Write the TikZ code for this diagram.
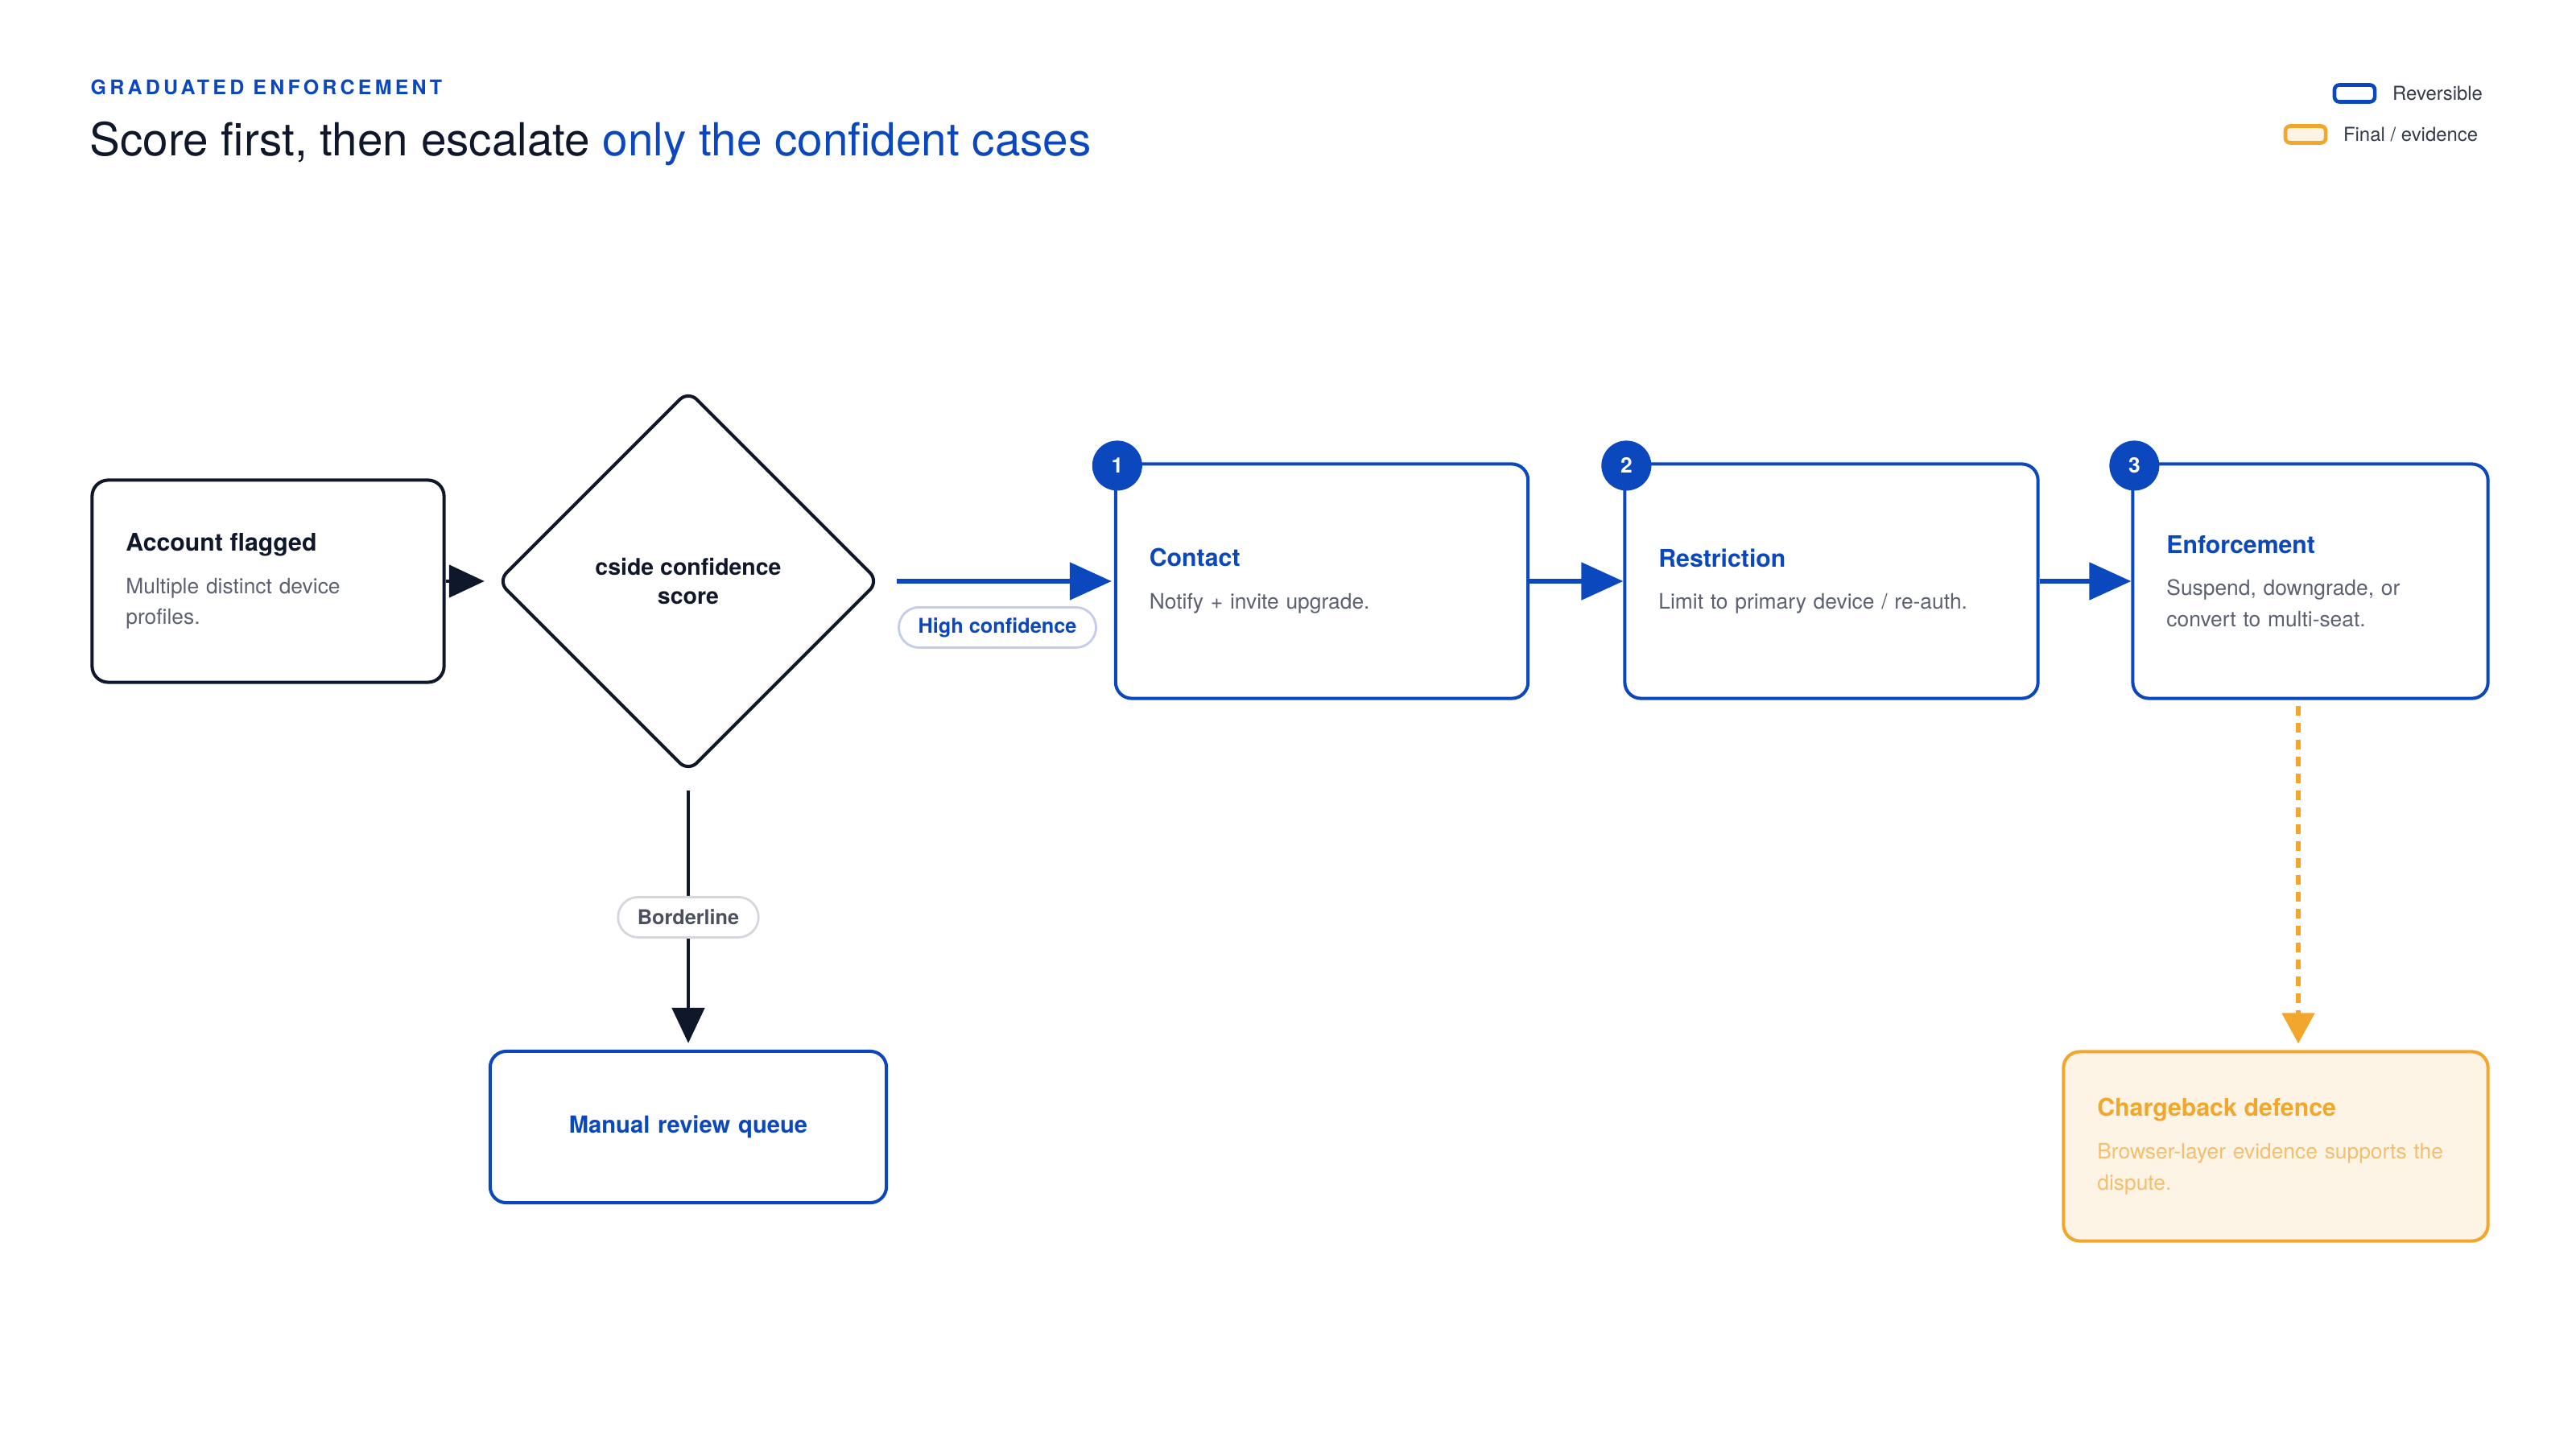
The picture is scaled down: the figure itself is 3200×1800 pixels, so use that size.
\documentclass[tikz,border=0pt]{standalone}
\usepackage{fontspec}
\setmainfont{TeX Gyre Heros}
\usetikzlibrary{arrows.meta,shapes.geometric}

\definecolor{navy}{HTML}{0F172A}
\definecolor{cobalt}{HTML}{0B47BD}
\definecolor{slate}{HTML}{5B6170}
\definecolor{amber}{HTML}{F2A62B}
\definecolor{amberpale}{HTML}{F3BE6E}
\definecolor{cream}{HTML}{FDF4E6}
\definecolor{rimgray}{HTML}{D4D7DD}
\definecolor{rimblue}{HTML}{C3CDEB}
\definecolor{pillink}{HTML}{4A505E}

\newcommand{\cardhead}[2]{{\fontsize{8.6}{11}\selectfont\bfseries\color{#1}#2}\\[4pt]}

\begin{document}
\begin{tikzpicture}[x=0.01cm, y=-0.01cm,
    card/.style={draw=#1, line width=1.15pt, rounded corners=0.2cm, fill=white,
      align=left, inner xsep=0.42cm, inner ysep=0pt,
      font=\fontsize{7.5}{11}\selectfont, text=slate},
    badge/.style={circle, fill=cobalt, text=white, minimum size=0.62cm, inner sep=0pt,
      font=\fontsize{7.5}{9}\selectfont\bfseries},
    pill/.style={draw=#1, line width=0.8pt, fill=white, rounded corners=0.25cm,
      minimum height=0.5cm, inner xsep=0.24cm, inner ysep=0pt,
      font=\fontsize{7.2}{9}\selectfont\bfseries},
    flow/.style={draw=#1, line width=1.5pt, -{Triangle[length=0.52cm,width=0.46cm]}},
    flowdark/.style={draw=navy, line width=1.4pt, -{Triangle[length=0.44cm,width=0.40cm]}},
    evidence/.style={draw=amber, line width=1.5pt, dash pattern=on 0.12cm off 0.09cm,
      -{Triangle[length=0.38cm,width=0.40cm]}},
    keybox/.style={draw=#1, line width=1.3pt, rounded corners=0.06cm,
      minimum width=0.5cm, minimum height=0.21cm, inner sep=0pt},
    keytext/.style={anchor=west, inner sep=0pt, text=navy!85,
      font=\fontsize{6.8}{8}\selectfont}]
\useasboundingbox (0,0) rectangle (3200,1800);

\node[anchor=west, inner sep=0pt, text=cobalt, font=\fontsize{7.1}{9}\selectfont\bfseries\addfontfeatures{LetterSpace=17}] (kicker) at (112,108) {GRADUATED ENFORCEMENT};
\node[anchor=west, inner sep=0pt, font=\fontsize{16.1}{19}\selectfont] (headline) at (111,179) {{\color{navy}Score first, then escalate} {\color{cobalt}only the confident cases}};

\node[keybox=cobalt] (keyrev) at (2925,116) {};
\node[keytext] (reversible) at ([xshift=0.19cm]keyrev.east) {Reversible};
\node[keybox=amber, fill=cream] (keyfinal) at (2864,167) {};
\node[keytext] (final) at ([xshift=0.19cm]keyfinal.east) {Final / evidence};

\node[card=navy, text width=3.53cm, minimum height=2.51cm] (flag) at (333,722)
  {\cardhead{navy}{Account flagged}Multiple distinct device\\profiles.};
\node[diamond, aspect=1, draw=navy, line width=1.15pt, rounded corners=0.15cm, fill=white,
  minimum width=4.74cm, minimum height=4.74cm, inner sep=0pt, align=center, text=navy,
  font=\fontsize{8.1}{10.5}\selectfont\bfseries] (score) at (855,722) {cside confidence\\score};

\node[card=cobalt, text width=4.28cm, minimum height=2.91cm] (contact) at (1642,722)
  {\cardhead{cobalt}{Contact}Notify + invite upgrade.};
\node[card=cobalt, text width=4.29cm, minimum height=2.91cm] (restrict) at (2275,722)
  {\cardhead{cobalt}{Restriction}Limit to primary device / re-auth.};
\node[card=cobalt, text width=3.57cm, minimum height=2.91cm] (enforce) at (2870,722)
  {\cardhead{cobalt}{Enforcement}Suspend, downgrade, or\\convert to multi-seat.};

\node[badge] (one) at ([shift={(0.04cm,-0.04cm)}]contact.north west) {1};
\node[badge] (two) at ([shift={(0.04cm,-0.04cm)}]restrict.north west) {2};
\node[badge] (three) at ([shift={(0.04cm,-0.04cm)}]enforce.north west) {3};

\node[card=cobalt, text width=4.08cm, minimum height=1.88cm, align=center, text=cobalt,
  font=\fontsize{8.3}{11}\selectfont\bfseries] (review) at (855,1400) {Manual review queue};
\node[card=amber, fill=cream, text width=4.43cm, minimum height=2.35cm, text=amberpale] (charge) at (2827,1424)
  {\cardhead{amber}{Chargeback defence}Browser-layer evidence supports the\\dispute.};

\draw[flowdark, shorten >=0.14cm] (flag) -- (score);
\draw[flow=cobalt, shorten <=0.2cm, shorten >=0.03cm] (score) -- node[pill=rimblue, text=cobalt, midway, anchor=north, yshift=-0.31cm] (high) {High confidence} (contact);
\draw[flow=cobalt] (contact) -- (restrict);
\draw[flow=cobalt] (restrict) -- (enforce);
\draw[flowdark, shorten <=0.21cm, shorten >=0.08cm] (score) -- node[pill=rimgray, text=pillink, pos=0.52] (border) {Borderline} (review);

\coordinate (tap) at ([xshift=-0.15cm]enforce.south);
\draw[evidence, shorten <=0.07cm, shorten >=0.08cm] (tap) -- (tap |- charge.north);
\end{tikzpicture}
\end{document}
